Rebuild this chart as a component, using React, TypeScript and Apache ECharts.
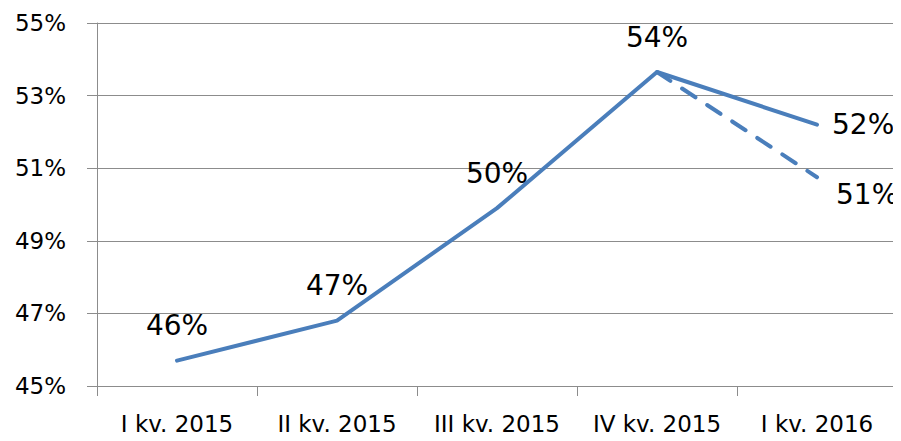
import React, { useEffect, useRef } from "react";
import * as echarts from "echarts";

const categories = ["I kv. 2015", "II kv. 2015", "III kv. 2015", "IV kv. 2015", "I kv. 2016"];
const actualValues = [45.7, 46.8, 49.9, 53.65, 52.2];
const forecastValues: (number | null)[] = [null, null, null, 53.65, 50.75];
const yTicks = { min: 45, max: 55, interval: 2 };

const FONT = "'DejaVu Sans', sans-serif";
const BLUE = "#4a7ebb";
const GRID = "#8c8c8c";
const CLEAR = "rgba(0,0,0,0)";

export default function App() {
  const ref = useRef<HTMLDivElement>(null);
  useEffect(() => {
    if (!ref.current) return;
    const chart = echarts.init(ref.current, undefined, { renderer: "svg" });
    const fmt = (p: any) => `${Math.round(p.value)}%`;
    const actualData = actualValues.map((v, i) => ({
      value: v,
      label:
        i === actualValues.length - 1
          ? { show: true, position: "right", distance: 14 }
          : { show: true, position: "top", distance: 20 },
    }));
    const forecastData = forecastValues.map((v, i) =>
      v === null
        ? null
        : {
            value: v,
            label: i === forecastValues.length - 1 ? { show: true, position: "right", distance: 18, offset: [0, 17] } : { show: false },
          }
    );
    chart.setOption({
      animation: false,
      grid: { left: 97, right: 4, top: 23, bottom: 55, containLabel: false },
      xAxis: {
        type: "category",
        data: categories,
        boundaryGap: true,
        axisLine: { show: true, lineStyle: { color: GRID, width: 1 } },
        axisTick: { show: true, length: 10, interval: 0, inside: false, alignWithLabel: false, lineStyle: { color: GRID } },
        axisLabel: { interval: 0, color: "#000", fontFamily: FONT, fontSize: 23, margin: 26 },
        splitLine: { show: false },
      },
      yAxis: {
        type: "value",
        min: yTicks.min,
        max: yTicks.max,
        interval: yTicks.interval,
        axisLine: { show: true, lineStyle: { color: GRID, width: 1 } },
        axisTick: { show: true, length: 10, lineStyle: { color: GRID } },
        axisLabel: { color: "#000", fontFamily: FONT, fontSize: 23, margin: 31, formatter: (v: number) => `${v}%` },
        splitLine: { show: true, lineStyle: { color: GRID, width: 1 } },
      },
      series: [
        {
          type: "line",
          data: forecastData,
          showSymbol: true,
          symbol: "circle",
          symbolSize: 2,
          itemStyle: { color: CLEAR, borderColor: CLEAR, borderWidth: 0 },
          lineStyle: { color: BLUE, width: 4, type: [16, 14], cap: "round" },
          label: { show: true, formatter: fmt, color: "#000", fontFamily: FONT, fontSize: 28 },
          z: 2,
        },
        {
          type: "line",
          data: actualData,
          showSymbol: true,
          symbol: "circle",
          symbolSize: 2,
          itemStyle: { color: CLEAR, borderColor: CLEAR, borderWidth: 0 },
          lineStyle: { color: BLUE, width: 4, cap: "round" },
          label: { show: true, formatter: fmt, color: "#000", fontFamily: FONT, fontSize: 28 },
          z: 3,
        },
      ],
    });
    return () => chart.dispose();
  }, []);
  return <div ref={ref} style={{ width: 901, height: 441, margin: -8 }} />;
}
